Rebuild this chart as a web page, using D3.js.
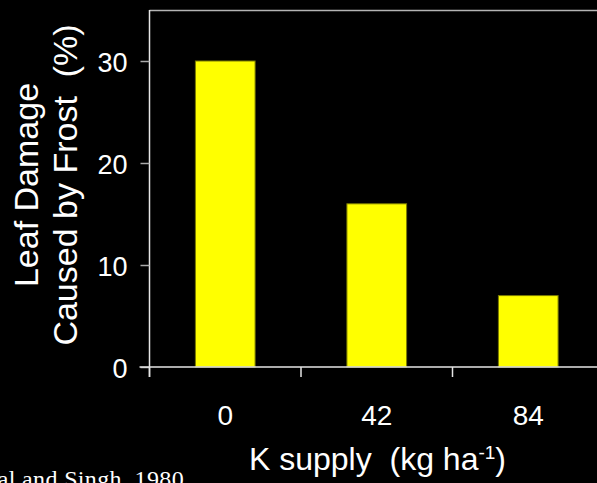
<!DOCTYPE html>
<html>
<head>
<meta charset="utf-8">
<script src="https://cdn.jsdelivr.net/npm/d3@7"></script>
<style>
  html, body { margin: 0; padding: 0; background: #000; }
  svg { display: block; }
  text { fill: #fff; white-space: pre; }
</style>
</head>
<body>
<svg id="chart" width="597" height="483"></svg>
<script>
// Potassium supply rates and the leaf damage caused by frost
const categories = ["0", "42", "84"];
const damage = [30, 16, 7];
const yTicks = [0, 10, 20, 30];

const sans = "'Liberation Sans', Arial, sans-serif";
const serif = "'Liberation Serif', 'Times New Roman', serif";

const svg = d3.select("#chart");
const W = 597, H = 483;
svg.append("rect").attr("width", W).attr("height", H).attr("fill", "#000");

const plotLeft = 149.5, plotTop = 10, plotBottom = 367, plotRight = 604;

const x = d3.scaleBand().domain(categories).range([plotLeft, plotRight]).padding(0);
const y = d3.scaleLinear().domain([0, 35]).range([plotBottom, plotTop]);
const barFrac = 0.394;

// plot frame: top border
svg.append("line")
  .attr("x1", plotLeft).attr("x2", W).attr("y1", plotTop + 0.5).attr("y2", plotTop + 0.5)
  .attr("stroke", "#b4b4b4").attr("stroke-width", 1.5);

// bars
svg.append("g").selectAll("rect")
  .data(categories.map((c, i) => ({ c, v: damage[i] })))
  .join("rect")
  .attr("x", d => x(d.c) + x.bandwidth() * (1 - barFrac) / 2)
  .attr("width", x.bandwidth() * barFrac)
  .attr("y", d => y(d.v))
  .attr("height", d => y(0) - y(d.v))
  .attr("fill", "#ffff00")
  .attr("stroke", "#7a7a00")
  .attr("stroke-width", 1);

// y axis
const yAxis = svg.append("g")
  .attr("transform", `translate(${plotLeft},0)`)
  .call(d3.axisLeft(y).tickValues(yTicks).tickSize(9).tickPadding(13).tickSizeOuter(0));
yAxis.select(".domain").attr("stroke", "#e6e6e6").attr("stroke-width", 1.5)
  .attr("d", `M0,${plotTop}V${plotBottom + 10}`);
yAxis.selectAll(".tick line").attr("stroke", "#aaa").attr("stroke-width", 1.5);
yAxis.selectAll(".tick text").style("font-size", "27px").style("font-family", sans)
  .attr("fill", "#fff").attr("dy", "0.38em");

// x axis: baseline, boundary ticks between categories, centred labels
const xAxis = svg.append("g").attr("transform", `translate(0,${plotBottom})`)
  .call(d3.axisBottom(x).tickSize(0).tickPadding(38).tickSizeOuter(0));
xAxis.select(".domain").attr("stroke", "#e6e6e6").attr("stroke-width", 1.5)
  .attr("d", `M${plotLeft - 10},0H${W}`);
xAxis.selectAll(".tick text").style("font-size", "28px").style("font-family", sans)
  .attr("fill", "#fff");
const edges = categories.map(c => x(c)).concat([x.range()[1]]);
xAxis.selectAll("line.edge").data(edges).join("line")
  .attr("class", "edge")
  .attr("x1", d => d).attr("x2", d => d).attr("y1", 0).attr("y2", 10)
  .attr("stroke", "#e6e6e6").attr("stroke-width", 1.5);

// y axis title, two lines
const yTitle = svg.append("text")
  .attr("transform", "translate(0,185) rotate(-90)")
  .attr("text-anchor", "middle")
  .style("font-family", sans).style("font-size", "34px");
yTitle.append("tspan").attr("x", 0).attr("y", 38).text("Leaf Damage");
yTitle.append("tspan").attr("x", 0).attr("y", 77).text("Caused by Frost  (%)");

// x axis title with superscript unit
const xTitle = svg.append("text")
  .attr("x", 377.5).attr("y", 470)
  .attr("text-anchor", "middle")
  .style("font-family", sans).style("font-size", "32px");
xTitle.append("tspan").text("K supply  (kg ha");
xTitle.append("tspan").style("font-size", "19px").attr("dy", -11).text("-1");
xTitle.append("tspan").attr("dy", 11).text(")");

// source citation
svg.append("text")
  .attr("x", 184).attr("y", 487)
  .attr("text-anchor", "end")
  .style("font-family", serif).style("font-size", "24px")
  .style("letter-spacing", "0.35px")
  .text("Grewal and Singh, 1980");
</script>
</body>
</html>
